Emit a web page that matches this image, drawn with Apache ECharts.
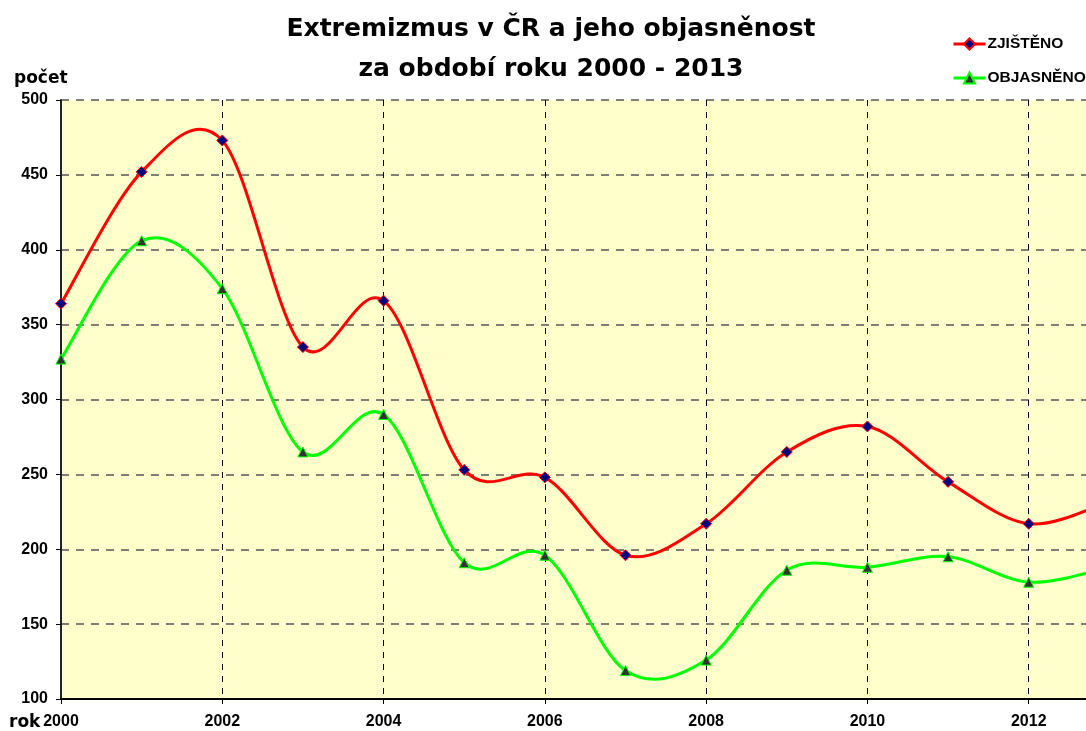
<!DOCTYPE html>
<html><head><meta charset="utf-8">
<script src="https://cdn.jsdelivr.net/npm/echarts@6/dist/echarts.min.js"></script>
<style>html,body{margin:0;padding:0;background:#fff}#c{width:1086px;height:731px}</style>
</head><body><div id="c"></div>
<script>
const years = [2000,2001,2002,2003,2004,2005,2006,2007,2008,2009,2010,2011,2012,2013];
const zjisteno = [364,452,473,335,366,253,248,196,217,265,282,245,217,232];
const objasneno = [327,406,374,265,290,191,196,119,126,186,188,195,178,188];
const seriesNames = ['ZJIŠTĚNO','OBJASNĚNO'];
const titleText = 'Extremizmus v ČR a jeho objasněnost\nza období roku 2000 - 2013';

const chart = echarts.init(document.getElementById('c'));
const fontD = 'DejaVu Sans, Verdana, sans-serif';
const fontL = 'Liberation Sans, Arial, sans-serif';

function curveRenderer(values, color){
  return function(params, api){
    if (params.dataIndex !== 0) return null;
    const P = years.map((y,i)=>api.coord([y, values[i]]));
    const n = P.length;
    const T = P.map((p,i)=>{
      const a = P[Math.max(i-1,0)], b = P[Math.min(i+1,n-1)];
      return [(b[0]-a[0])/2, (b[1]-a[1])/2];
    });
    let d = 'M' + P[0][0] + ' ' + P[0][1];
    for (let i=0;i<n-1;i++){
      const c1 = [P[i][0]+T[i][0]/3, P[i][1]+T[i][1]/3];
      const c2 = [P[i+1][0]-T[i+1][0]/3, P[i+1][1]-T[i+1][1]/3];
      d += ' C' + c1.join(' ') + ' ' + c2.join(' ') + ' ' + P[i+1].join(' ');
    }
    return {type:'path', shape:{pathData:d}, style:{fill:'none', stroke:color, lineWidth:3}};
  };
}

chart.setOption({
  animation:false,
  backgroundColor:'#fff',
  title:{text:titleText,left:546,textAlign:'center',top:4,
    textStyle:{fontFamily:fontD,fontWeight:'bold',fontSize:25,color:'#000',lineHeight:40}},
  legend:{orient:'vertical',left:947,top:31,itemGap:18,itemWidth:32,itemHeight:14,
    textStyle:{fontFamily:fontL,fontWeight:'bold',fontSize:15.5,lineHeight:16,color:'#000',padding:[0,0,0,-3]},
    data:[
      {name:seriesNames[0],lineStyle:{color:'#FF0000',width:3,opacity:1}},
      {name:seriesNames[1],lineStyle:{color:'#00FF00',width:3,opacity:1}}
    ]},
  grid:{left:61,right:0,top:100,bottom:32,show:true,backgroundColor:'#FFFFCC',borderWidth:0},
  xAxis:{type:'value',min:2000,max:2012.71,interval:2,
    axisLine:{show:true,onZero:false,lineStyle:{color:'#000',width:2}},
    axisTick:{show:true,length:5,lineStyle:{color:'#000'}},
    axisLabel:{showMaxLabel:false,fontFamily:fontL,fontWeight:'bold',fontSize:16,color:'#000',margin:15,
      formatter:v=>Number.isInteger(v)?String(v):''},
    splitLine:{show:true,lineStyle:{color:'#000',type:[6,6],width:1}}},
  yAxis:{type:'value',min:100,max:500,interval:50,
    axisLine:{show:true,lineStyle:{color:'#222',width:2}},
    axisTick:{show:true,length:5,lineStyle:{color:'#000'}},
    axisLabel:{fontFamily:fontL,fontWeight:'bold',fontSize:16,color:'#000',margin:13},
    splitLine:{show:true,lineStyle:{color:'#555',type:[8,7],width:1.5}}},
  graphic:[
    {type:'text',x:14,y:79,style:{text:'počet',font:'bold 17px '+fontD,fill:'#000',verticalAlign:'middle'}},
    {type:'text',x:9,y:723,style:{text:'rok',font:'bold 17px '+fontD,fill:'#000',verticalAlign:'middle'}}
  ],
  series:[
    {name:seriesNames[0],type:'line',z:3,
     data:years.map((y,i)=>[y,zjisteno[i]]),
     lineStyle:{width:0,opacity:0},
     symbol:'diamond',symbolSize:11,
     itemStyle:{color:'#000080',borderColor:'#FF0000',borderWidth:1}},
    {name:seriesNames[1],type:'line',z:3,
     data:years.map((y,i)=>[y,objasneno[i]]),
     lineStyle:{width:0,opacity:0},
     symbol:'triangle',symbolSize:10,
     itemStyle:{color:'#333333',borderColor:'#00FF00',borderWidth:1}},
    {name:seriesNames[0],type:'custom',z:2,data:[[2000,zjisteno[0]]],
     renderItem:curveRenderer(zjisteno,'#FF0000')},
    {name:seriesNames[1],type:'custom',z:2,data:[[2000,objasneno[0]]],
     renderItem:curveRenderer(objasneno,'#00FF00')}
  ]
});
</script></body></html>
